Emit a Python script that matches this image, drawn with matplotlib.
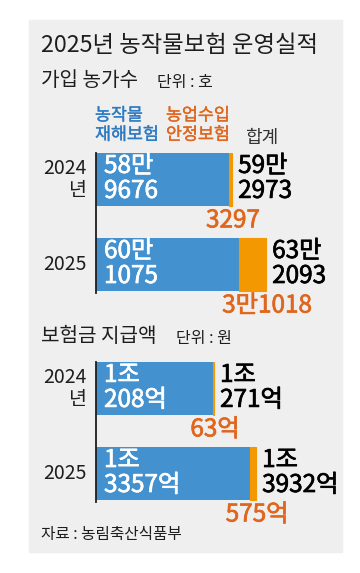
import matplotlib.pyplot as plt
import matplotlib.patheffects as pe
from matplotlib.patches import Rectangle

plt.rcParams['font.family'] = ['Noto Sans CJK KR', 'DejaVu Sans']

years = ['2024\n년', '2025']
# 가입 농가수 (단위: 호)
farms_crop = [589676, 601075]     # 농작물재해보험
farms_income = [3297, 31018]      # 농업수입안정보험
# 보험금 지급액 (단위: 억원)
pay_crop = [10208, 13357]
pay_income = [63, 575]

BLUE = '#4391cf'
ORANGE = '#f39800'
ORANGE_TXT = '#e0661e'
BLUE_TXT = '#2f7bc2'
DARK = '#1e1e1e'
W, H = 360, 573


def man(v, sep='\n'):
    if v >= 10000:
        return f'{v // 10000}만{sep}{v % 10000}'
    return str(v)


def jo(v, sep='\n'):
    if v >= 10000:
        return f'{v // 10000}조{sep}{v % 10000}억'
    return f'{v}억'


def thick(color, w=0.5):
    # regular weight plus a thin outline ~ medium weight
    return [pe.withStroke(linewidth=w, foreground=color)]


def ftext(x, y, s, **kw):
    # x, y in pixels from top-left of the image
    fig.text(x / W, 1 - y / H, s, **kw)


def draw_panel(top, bottom, crop, income, fmt, xlim):
    ax = fig.add_axes([96 / W, 1 - bottom / H, 244 / W, (bottom - top) / H])
    ax.patch.set_alpha(0)
    y = [0, 1]
    totals = [c + i for c, i in zip(crop, income)]
    ax.barh(y, crop, height=0.62, color=BLUE)
    ax.barh(y, income, left=crop, height=0.62, color=ORANGE,
            edgecolor=ORANGE, lw=0.8)
    ax.set_xlim(xlim)
    ax.set_ylim(1.335, -0.31)
    for s in ['top', 'right', 'bottom']:
        ax.spines[s].set_visible(False)
    ax.spines['left'].set_color(DARK)
    ax.spines['left'].set_linewidth(1.3)
    ax.set_xticks([])
    ax.set_yticks([])

    for i in y:
        ax.annotate(years[i], xy=(0, i), xycoords=('axes fraction', 'data'),
                    xytext=(-9, 0), textcoords='offset pixels', ha='right',
                    va='center', multialignment='right', fontsize=14,
                    color=DARK, linespacing=1.1)
        ax.annotate(fmt(crop[i]), xy=(0, i), xycoords=('axes fraction', 'data'),
                    xytext=(8, 1), textcoords='offset pixels', ha='left',
                    va='center', fontsize=17.5, color='white',
                    linespacing=0.95, path_effects=thick('white'))
        ax.annotate(fmt(totals[i]), xy=(totals[i], i),
                    xytext=(6, 1), textcoords='offset pixels', ha='left',
                    va='center', fontsize=17.5, color='black',
                    linespacing=0.95, path_effects=thick('black'))
        ax.annotate(fmt(income[i], ''), xy=(totals[i], i),
                    xytext=(1, -41), textcoords='offset pixels', ha='center',
                    va='center', fontsize=17.5, color=ORANGE_TXT,
                    path_effects=thick(ORANGE_TXT))
    return ax


fig = plt.figure(figsize=(3.6, 5.73), dpi=100)
fig.add_artist(Rectangle((29 / W, 1 - 552 / H), 313 / W, 532 / H,
                         transform=fig.transFigure, color='#efefef', zorder=-1))

ftext(41, 45, '2025년 농작물보험 운영실적', fontsize=16.8, va='center',
      color=DARK)
ftext(41, 81, '가입 농가수', fontsize=14.5, va='center', color=DARK)
ftext(157, 82, '단위 : 호', fontsize=11.5, va='center', color=DARK)
ftext(95, 125, '농작물\n재해보험', fontsize=12.5, va='center', color=BLUE_TXT,
      linespacing=1.1, path_effects=thick(BLUE_TXT, 0.25))
ftext(166, 125, '농업수입\n안정보험', fontsize=12.5, va='center', color=ORANGE_TXT,
      linespacing=1.1, path_effects=thick(ORANGE_TXT, 0.25))
ftext(245, 138, '합계', fontsize=13, va='center', color='#333333')

draw_panel(153, 293, farms_crop, farms_income, man, (436500, 717000))

ftext(41, 337, '보험금 지급액', fontsize=14.5, va='center', color=DARK)
ftext(176, 338, '단위 : 원', fontsize=11.5, va='center', color=DARK)

draw_panel(362, 502, pay_crop, pay_income, jo, (0, 21230))

ftext(41, 535, '자료 : 농림축산식품부', fontsize=11.3, va='center', color=DARK)

fig.savefig('out.png', dpi=100)
